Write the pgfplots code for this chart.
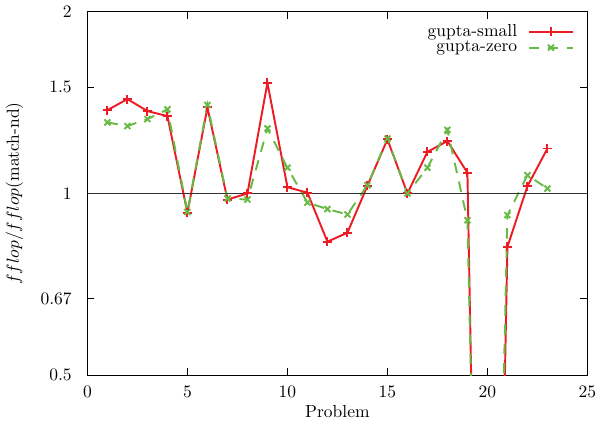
\documentclass[border=0pt]{standalone}
\usepackage{pgfplots}
\pgfplotsset{compat=1.18}
\definecolor{gred}{RGB}{237,28,36}
\definecolor{ggreen}{RGB}{104,186,70}
\begin{document}
\begin{tikzpicture}
\begin{axis}[
  scale only axis,
  width=286pt, height=208pt,
  xmin=0, xmax=25,
  ymode=log, ymin=0.5, ymax=2,
  xtick={0,5,10,15,20,25},
  ytick={0.5,0.67,1,1.5,2},
  yticklabels={0.5,0.67,1,1.5,2},
  log ticks with fixed point,
  tick align=inside,
  tick pos=both,
  minor tick num=0,
  major tick length=4pt,
  xticklabel style={yshift=-2.5pt},
  yticklabel style={xshift=-5.5pt},
  xlabel={Problem},
  ylabel={$fflop/fflop$(match-nd)},
  xlabel style={yshift=2pt},
  ylabel style={yshift=3pt},
  clip=true,
  legend style={draw=none, fill=none, at={(0.985,0.985)}, anchor=north east,
    font=\normalsize, row sep=-3pt, column sep=4pt},
  legend cell align=right,
  legend plot pos=right,
  legend image code/.code={%
    \draw[mark repeat=2,mark phase=2] plot coordinates {(0cm,0cm) (0.45cm,0cm) (0.9cm,0cm)};},
  axis line style={line width=0.6pt},
  tick style={black, line width=0.5pt},
]
\addplot[gred, line width=1.1pt, mark=+, mark size=2.6pt, mark options={solid, line width=1.1pt}] coordinates {
(1,1.374) (2,1.433) (3,1.369) (4,1.343) (5,0.929) (6,1.388) (7,0.977) (8,1.0)
(9,1.525) (10,1.024) (11,1.003) (12,0.832) (13,0.861) (14,1.03) (15,1.229)
(16,1.0) (17,1.172) (18,1.221) (19,1.082) (20,0.017) (21,0.816) (22,1.028) (23,1.187)
};
\addlegendentry{gupta-small}
\addplot[ggreen, line width=1.1pt, dashed, dash pattern=on 6pt off 5pt, mark=x, mark size=2.4pt, mark options={solid, line width=1.1pt}] coordinates {
(1,1.311) (2,1.293) (3,1.328) (4,1.378) (5,0.932) (6,1.401) (7,0.981) (8,0.977)
(9,1.281) (10,1.103) (11,0.966) (12,0.942) (13,0.923) (14,1.032) (15,1.233)
(16,1.0) (17,1.103) (18,1.274) (19,0.903) (20,0.03) (21,0.921) (22,1.072) (23,1.019)
};
\addlegendentry{gupta-zero}
\draw[black!80, line width=0.7pt] (axis cs:0,1) -- (axis cs:25,1);
\end{axis}
\end{tikzpicture}
\end{document}
